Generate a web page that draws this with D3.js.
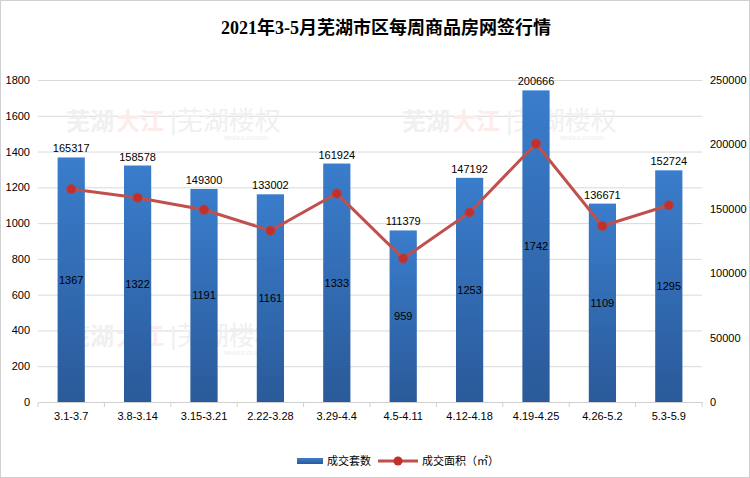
<!DOCTYPE html>
<html>
<head>
<meta charset="utf-8">
<script src="https://cdn.jsdelivr.net/npm/d3@7"></script>
<style>
  body { margin: 0; background: #fff; }
  #chart { width: 750px; height: 478px; }
  text { font-family: "Liberation Sans", "Noto Sans CJK SC", sans-serif; }
</style>
</head>
<body>
<div id="chart"></div>
<script>
// 数据
const weeks = ['3.1-3.7', '3.8-3.14', '3.15-3.21', '2.22-3.28', '3.29-4.4', '4.5-4.11', '4.12-4.18', '4.19-4.25', '4.26-5.2', '5.3-5.9'];
const units = [1367, 1322, 1191, 1161, 1333, 959, 1253, 1742, 1109, 1295];
const areas = [165317, 158578, 149300, 133002, 161924, 111379, 147192, 200666, 136671, 152724];
const leftTicks = [0, 200, 400, 600, 800, 1000, 1200, 1400, 1600, 1800];
const rightTicks = [0, 50000, 100000, 150000, 200000, 250000];

const width = 750, height = 478;
const margin = {top: 80, right: 48, bottom: 76, left: 38};
const innerWidth = width - margin.left - margin.right;
const innerHeight = height - margin.top - margin.bottom;

const svg = d3.select('#chart').append('svg')
    .attr('width', width)
    .attr('height', height);

// 渐变
const defs = svg.append('defs');
const grad = defs.append('linearGradient')
    .attr('id', 'barGrad')
    .attr('x1', 0).attr('y1', 0).attr('x2', 0).attr('y2', 1);
grad.append('stop').attr('offset', '0%').attr('stop-color', '#3a7dcc');
grad.append('stop').attr('offset', '100%').attr('stop-color', '#2a5a99');

svg.append('rect')
    .attr('x', 0.5).attr('y', 0.5)
    .attr('width', width - 1).attr('height', height - 1)
    .attr('fill', '#fff')
    .attr('stroke', '#d0d0d0');

svg.append('text')
    .attr('x', 386)
    .attr('y', 34)
    .attr('text-anchor', 'middle')
    .style('font-family', '"Liberation Serif", "Noto Sans CJK SC", serif')
    .style('font-size', '18px')
    .style('font-weight', 'bold')
    .attr('fill', '#000')
    .text('2021年3-5月芜湖市区每周商品房网签行情');

const g = svg.append('g')
    .attr('transform', `translate(${margin.left},${margin.top})`);

const xScale = d3.scaleBand()
    .domain(weeks)
    .range([0, innerWidth])
    .paddingInner(0.59)
    .paddingOuter(0.295);

const yLeft = d3.scaleLinear()
    .domain([0, 1800])
    .range([innerHeight, 0]);

const yRight = d3.scaleLinear()
    .domain([0, 250000])
    .range([innerHeight, 0]);

// 网格线 + 左轴
const yAxisG = g.append('g')
    .call(d3.axisLeft(yLeft).tickValues(leftTicks).tickFormat(d3.format('d')).tickSize(-innerWidth).tickPadding(8));
yAxisG.select('.domain').remove();
yAxisG.selectAll('line').attr('stroke', '#d9d9d9');
yAxisG.selectAll('line').filter(d => d === 0).remove();
yAxisG.selectAll('text').style('font-size', '11px').attr('fill', '#000');

// 右轴
const yRightG = g.append('g')
    .attr('transform', `translate(${innerWidth},0)`)
    .call(d3.axisRight(yRight).tickValues(rightTicks).tickFormat(d3.format('d')).tickSize(0).tickPadding(8));
yRightG.select('.domain').remove();
yRightG.selectAll('text').style('font-size', '11px').attr('fill', '#000');

// 水印
const marks = [[28, 50], [364, 50], [28, 265]];
marks.forEach(([mx, my]) => {
    const wm = g.append('g').attr('transform', `translate(${mx},${my})`)
        .style('font-family', '"Noto Sans CJK SC", sans-serif')
        .style('font-weight', 'bold')
        .style('font-size', '24px');
    wm.append('text').attr('x', 0).attr('y', 0).attr('fill', '#f0f0f0').text('芜湖');
    wm.append('text').attr('x', 50).attr('y', 0).attr('fill', '#fcecec').text('大江');
    wm.append('text').attr('x', 104).attr('y', 0).attr('fill', '#f0f0f0')
        .style('font-weight', 'normal').style('font-size', '26px').text('|芜湖楼权');
    wm.append('text').attr('x', 158).attr('y', 10).attr('fill', '#f0f0f0')
        .style('font-size', '6px').style('font-family', '"Liberation Sans", sans-serif').text('WUHULOUSHU');
});

// x 轴
const xAxisG = g.append('g')
    .attr('transform', `translate(0,${innerHeight})`)
    .call(d3.axisBottom(xScale).tickSize(0).tickPadding(10));
xAxisG.select('.domain').attr('stroke', '#d0d0d0');
xAxisG.selectAll('text').style('font-size', '11px').attr('fill', '#000');
const step = xScale.step();
g.append('g').selectAll('line')
    .data(d3.range(weeks.length + 1))
    .join('line')
    .attr('x1', i => i * step).attr('x2', i => i * step)
    .attr('y1', innerHeight).attr('y2', innerHeight + 5)
    .attr('stroke', '#d0d0d0');

// 柱
g.append('g').selectAll('rect')
    .data(units)
    .join('rect')
    .attr('x', (d, i) => xScale(weeks[i]))
    .attr('y', d => yLeft(d))
    .attr('width', xScale.bandwidth())
    .attr('height', d => innerHeight - yLeft(d))
    .attr('fill', 'url(#barGrad)');

g.append('g').selectAll('text')
    .data(units)
    .join('text')
    .attr('x', (d, i) => xScale(weeks[i]) + xScale.bandwidth() / 2)
    .attr('y', d => (yLeft(d) + innerHeight) / 2 + 4)
    .attr('text-anchor', 'middle')
    .style('font-size', '11px')
    .attr('fill', '#000')
    .text(d => d);

// 折线
const line = d3.line()
    .x((d, i) => xScale(weeks[i]) + xScale.bandwidth() / 2)
    .y(d => yRight(d));

g.append('path')
    .attr('d', line(areas))
    .attr('fill', 'none')
    .attr('stroke', '#c0504d')
    .attr('stroke-width', 3);

g.append('g').selectAll('circle')
    .data(areas)
    .join('circle')
    .attr('cx', (d, i) => xScale(weeks[i]) + xScale.bandwidth() / 2)
    .attr('cy', d => yRight(d))
    .attr('r', 4.5)
    .attr('fill', '#c0312e')
    .attr('stroke', '#b8403c')
    .attr('stroke-width', 1);

// 面积标签(柱顶上方)
g.append('g').selectAll('text')
    .data(areas)
    .join('text')
    .attr('x', (d, i) => xScale(weeks[i]) + xScale.bandwidth() / 2)
    .attr('y', (d, i) => yLeft(units[i]) - 5)
    .attr('text-anchor', 'middle')
    .style('font-size', '11px')
    .attr('fill', '#000')
    .text(d => d);

// 图例
const legend = svg.append('g').attr('transform', 'translate(297,461)');
legend.append('rect')
    .attr('x', 0).attr('y', -3).attr('width', 26).attr('height', 6)
    .attr('fill', 'url(#barGrad)');
legend.append('text')
    .attr('x', 30).attr('y', 4)
    .style('font-size', '11px')
    .style('font-family', '"Noto Sans CJK SC", sans-serif')
    .text('成交套数');
legend.append('line')
    .attr('x1', 81).attr('x2', 121).attr('y1', 0).attr('y2', 0)
    .attr('stroke', '#c0504d').attr('stroke-width', 3);
legend.append('circle')
    .attr('cx', 101).attr('cy', 0).attr('r', 4.5)
    .attr('fill', '#c0312e');
legend.append('text')
    .attr('x', 125).attr('y', 4)
    .style('font-size', '11px')
    .style('font-family', '"Noto Sans CJK SC", sans-serif')
    .text('成交面积（㎡）');
</script>
</body>
</html>
